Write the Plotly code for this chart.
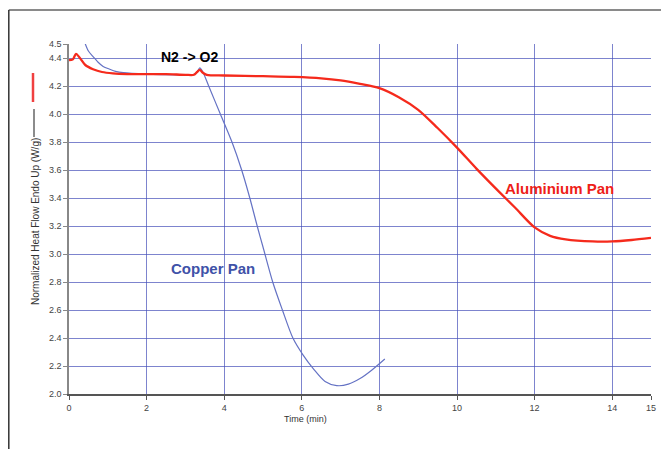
import plotly.graph_objects as go

# Aluminium pan (red)
al_x = [0, 0.1, 0.18, 0.28, 0.42, 0.62, 0.85, 1.13, 1.5, 2.0, 2.5, 3.0, 3.22, 3.3, 3.37, 3.45, 3.55, 4.0, 5.0, 5.8, 6.5, 7.0, 7.5, 8.0, 8.5, 9.0, 9.5, 10.0, 10.5, 11.1, 11.5, 12.0, 12.4, 12.8, 13.5, 14.0, 14.5, 15.0]
al_y = [4.385, 4.39, 4.43, 4.40, 4.35, 4.32, 4.30, 4.29, 4.285, 4.285, 4.285, 4.28, 4.28, 4.30, 4.315, 4.295, 4.28, 4.275, 4.27, 4.265, 4.255, 4.24, 4.215, 4.185, 4.12, 4.03, 3.90, 3.76, 3.61, 3.44, 3.33, 3.19, 3.13, 3.105, 3.09, 3.09, 3.10, 3.115]

# Copper pan (blue)
cu_x = [0.38, 0.5, 0.62, 0.75, 0.88, 1.05, 1.2, 1.4, 2.0, 2.8, 3.2, 3.3, 3.37, 3.45, 3.6, 3.9, 4.2, 4.45, 4.66, 4.85, 5.0, 5.25, 5.5, 5.77, 6.03, 6.3, 6.6, 6.9, 7.2, 7.5, 7.8, 8.14]
cu_y = [4.53, 4.45, 4.41, 4.37, 4.34, 4.32, 4.305, 4.295, 4.285, 4.28, 4.28, 4.30, 4.33, 4.30, 4.20, 4.00, 3.80, 3.60, 3.40, 3.20, 3.05, 2.80, 2.60, 2.40, 2.28, 2.18, 2.09, 2.06, 2.07, 2.11, 2.17, 2.25]

y_ticks = [4.5, 4.4, 4.2, 4.0, 3.8, 3.6, 3.4, 3.2, 3.0, 2.8, 2.6, 2.4, 2.2, 2.0]
y_labels = ["4.5", "4.4", "4.2", "4.0", "3.8", "3.6", "3.4", "3.2", "3.0", "2.8", "2.6", "2.4", "2.2", "2.0"]
x_ticks = [0, 2, 4, 6, 8, 10, 12, 14, 15]
x_labels = ["0", "2", "4", "6", "8", "10", "12", "14", "15"]

FONT = "Arial, Liberation Sans, sans-serif"
GRID = "rgba(70,80,185,0.7)"

fig = go.Figure()
fig.add_trace(go.Scatter(x=cu_x, y=cu_y, mode="lines", line=dict(color="#6472c4", width=1.2, shape="spline", smoothing=0.8),
                         showlegend=False, hoverinfo="skip"))
fig.add_trace(go.Scatter(x=al_x, y=al_y, mode="lines", line=dict(color="#f52a1c", width=2.3, shape="spline", smoothing=0.8),
                         showlegend=False, hoverinfo="skip"))

fig.update_layout(
    width=669, height=449,
    margin=dict(l=61, r=26, t=36, b=63),
    paper_bgcolor="white", plot_bgcolor="white",
    font=dict(family=FONT, size=9, color="#444"),
    xaxis=dict(range=[0, 15], tickvals=x_ticks, ticktext=x_labels, showgrid=True, gridcolor=GRID, gridwidth=1.3,
               showline=True, linecolor="#555", linewidth=1.5, ticks="outside", ticklen=4, tickcolor="#555",
               zeroline=False, tickfont=dict(size=9, color="#444")),
    yaxis=dict(range=[2.0, 4.5], tickvals=y_ticks, ticktext=y_labels, showgrid=True, gridcolor=GRID, gridwidth=1.3,
               showline=True, linecolor="#888", linewidth=1.5, ticks="outside", ticklen=4, tickcolor="#888",
               zeroline=False, tickfont=dict(size=9, color="#444")),
    annotations=[
        dict(text="N2 -> O2", x=3.1, y=4.41, xref="x", yref="y", showarrow=False,
             font=dict(family=FONT, size=14, color="black", weight="bold")),
        dict(text="Copper Pan", x=3.7, y=2.895, xref="x", yref="y", showarrow=False,
             font=dict(family=FONT, size=15, color="#4052a8", weight="bold")),
        dict(text="Aluminium Pan", x=12.65, y=3.465, xref="x", yref="y", showarrow=False,
             font=dict(family=FONT, size=15, color="#ee2018", weight="bold")),
        dict(text="Normalized Heat Flow Endo Up (W/g)", x=(35 - 69) / 582, y=(394 - 222) / 350, xref="paper", yref="paper",
             xanchor="center", yanchor="middle",
             textangle=-90, showarrow=False, font=dict(family=FONT, size=10, color="#333")),
        dict(text="Time (min)", x=(305 - 69) / 582, y=(394 - 419) / 350, xref="paper", yref="paper",
             xanchor="center", yanchor="middle",
             showarrow=False, font=dict(family=FONT, size=9, color="#333")),
    ],
    shapes=[
        dict(type="line", xref="paper", yref="paper", x0=(33 - 69) / 582, x1=(33 - 69) / 582,
             y0=(394 - 73) / 350, y1=(394 - 102) / 350, line=dict(color="#f04040", width=2.5)),
        dict(type="line", xref="paper", yref="paper", x0=(34 - 69) / 582, x1=(34 - 69) / 582,
             y0=(394 - 109) / 350, y1=(394 - 137) / 350, line=dict(color="#666", width=1.5)),
        dict(type="line", xref="paper", yref="paper", x0=(8.8 - 69) / 582, x1=(669 - 69) / 582,
             y0=(394 - 10) / 350, y1=(394 - 10) / 350, line=dict(color="#8a8a8a", width=2)),
        dict(type="line", xref="paper", yref="paper", x0=(8.8 - 69) / 582, x1=(8.8 - 69) / 582,
             y0=(394 - 10) / 350, y1=(394 - 452) / 350, line=dict(color="#333", width=1.5)),
    ],
)

fig.write_html("out.html")
